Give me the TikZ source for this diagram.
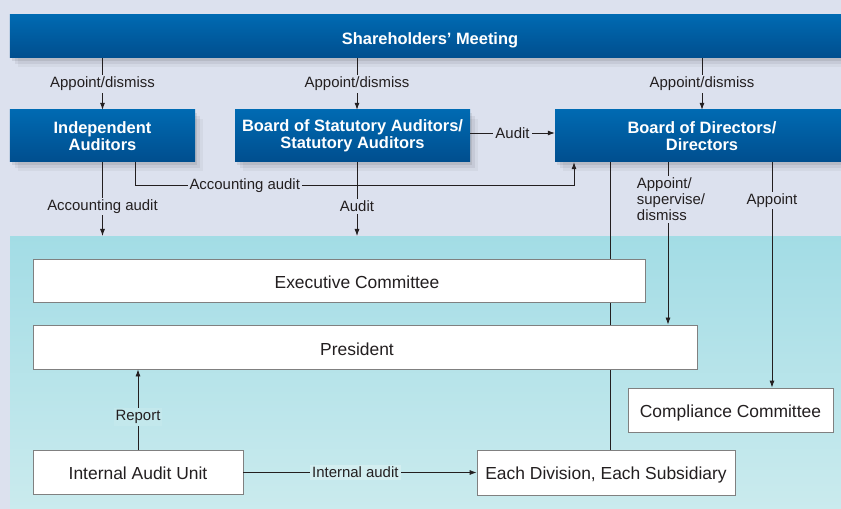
\documentclass[tikz,border=0pt]{standalone}
\usepackage{fontspec}
\setmainfont{Liberation Sans}
\usetikzlibrary{arrows.meta,shadows}

\definecolor{pagebg}{RGB}{220,225,238}
\definecolor{blueA}{RGB}{0,106,178}
\definecolor{blueB}{RGB}{0,78,142}
\definecolor{tealA}{RGB}{143,213,225}
\definecolor{tealB}{RGB}{222,242,242}
\definecolor{ink}{RGB}{35,31,32}
\definecolor{rim}{RGB}{128,128,128}

\pgfdeclarelayer{back}
\pgfsetlayers{back,main}
\pgfdeclareverticalshading{firmshade}{100bp}{color(0bp)=(tealB); color(100bp)=(tealA)}

\tikzset{
  softshadow/.style={
    drop shadow={shadow xshift=2bp,shadow yshift=-3bp,opacity=.08,fill=black},
    drop shadow={shadow xshift=5bp,shadow yshift=-6bp,opacity=.06,fill=black},
    drop shadow={shadow xshift=8bp,shadow yshift=-9bp,opacity=.04,fill=black}},
  bluebox/.style={top color=blueA, bottom color=blueB, text=white, align=center,
    inner sep=0pt, font=\bfseries\fontsize{16.5}{17}\selectfont, softshadow},
  whitebox/.style={draw=rim, line width=0.8bp, fill=white, text=ink,
    text height=14bp, text depth=0pt, inner sep=0pt, font=\fontsize{17.5}{20}\selectfont},
  boxtext/.style={text=ink, text height=17bp, text depth=0pt,
    font=\fontsize{17.5}{20}\selectfont},
  lbl/.style={fill=pagebg, text=ink, inner sep=2bp, font=\fontsize{15}{16}\selectfont},
  link/.style={draw=ink, line width=0.8bp}
}

\begin{document}
\begin{tikzpicture}[x=1bp,y=-1bp,>={Latex[length=7bp,width=5bp]}]
\useasboundingbox (0,0) rectangle (841,509);
\clip (0,0) rectangle (841,509);

\begin{pgfonlayer}{back}
\fill[pagebg] (0,0) rectangle (841,509);
\node[shading=firmshade, minimum width=831bp, minimum height=273bp,
    anchor=north west, inner sep=0pt] (firm) at (10,236) {};
\end{pgfonlayer}

% governing bodies
\node[bluebox, text height=16bp, text depth=0pt, minimum width=840bp, minimum height=43bp]
    (sm) at (430,36.5) {Shareholders' Meeting};
\node[bluebox, minimum width=185bp, minimum height=52bp] (ia) at (102.5,136)
    {Independent\\Auditors};
\node[bluebox, minimum width=235bp, minimum height=52bp] (sa) at (352.5,136)
    {Board of Statutory Auditors/\\Statutory Auditors};
\node[bluebox, minimum width=294bp, minimum height=52bp] (bd) at (702,136)
    {Board of Directors/\\Directors};

% business execution
\node[whitebox, minimum width=612bp, minimum height=43bp] (ec) at (339,280.5) {};
\node[whitebox, minimum width=664bp, minimum height=44bp] (pr) at (365,347) {};
\node[whitebox, minimum width=205bp, minimum height=44bp] (cc) at (730.5,410)
    {Compliance Committee};
\node[whitebox, minimum width=210bp, minimum height=44bp] (iau) at (138,472.5)
    {Internal Audit Unit};
\node[whitebox, minimum width=258bp, minimum height=45bp] (div) at (606,472.5)
    {Each Division, Each Subsidiary};

\coordinate (sacol) at (357,0);
\coordinate (acc) at (135,185);
\coordinate (accin) at (574,0);
\coordinate (bdline) at (610,0);
\coordinate (supcol) at (668,0);
\coordinate (cmpcol) at (772,0);

\node[boxtext] at (ec -| sacol) {Executive Committee};
\node[boxtext] at (pr -| sacol) {President};

\draw[link,->] (sm.south -| ia) -- node[lbl,pos=.5]{Appoint/dismiss} (ia.north);
\draw[link,->] (sm.south -| sacol) -- node[lbl,pos=.5]{Appoint/dismiss} (sa.north -| sacol);
\draw[link,->] (sm.south -| bd) -- node[lbl,pos=.5]{Appoint/dismiss} (bd.north);
\draw[link,->] ([yshift=3bp]sa.east) -- node[lbl]{Audit} ([yshift=3bp]bd.west);

\draw[link,->] (ia.south -| acc) -- (acc)
    -- node[lbl,pos=.25,yshift=-1bp]{Accounting audit} (acc -| accin) -- (bd.south -| accin);
\draw[link,->] (ia.south) -- node[lbl,pos=.6]{Accounting audit} (ia.south |- firm.north);
\draw[link,->] (sa.south -| sacol) -- node[lbl,pos=.6]{Audit} (firm.north -| sacol);

\begin{pgfonlayer}{back}
\draw[link] (bd.south -| bdline) -- (div.north -| bdline);
\end{pgfonlayer}
\draw[link,->] (bd.south -| supcol)
    -- node[lbl,align=left,pos=.23,xshift=3bp]{Appoint/\\supervise/\\dismiss} (pr.north -| supcol);
\draw[link,->] (bd.south -| cmpcol) -- node[lbl,pos=.17]{Appoint} (cc.north -| cmpcol);

\draw[link,->] (iau.north) -- node[lbl,pos=.41,fill=tealB!66!tealA]{Report} (pr.south -| iau);
\draw[link,->] (iau.east) -- node[lbl,pos=.48,fill=tealB!86!tealA]{Internal audit} (div.west);
\end{tikzpicture}
\end{document}
